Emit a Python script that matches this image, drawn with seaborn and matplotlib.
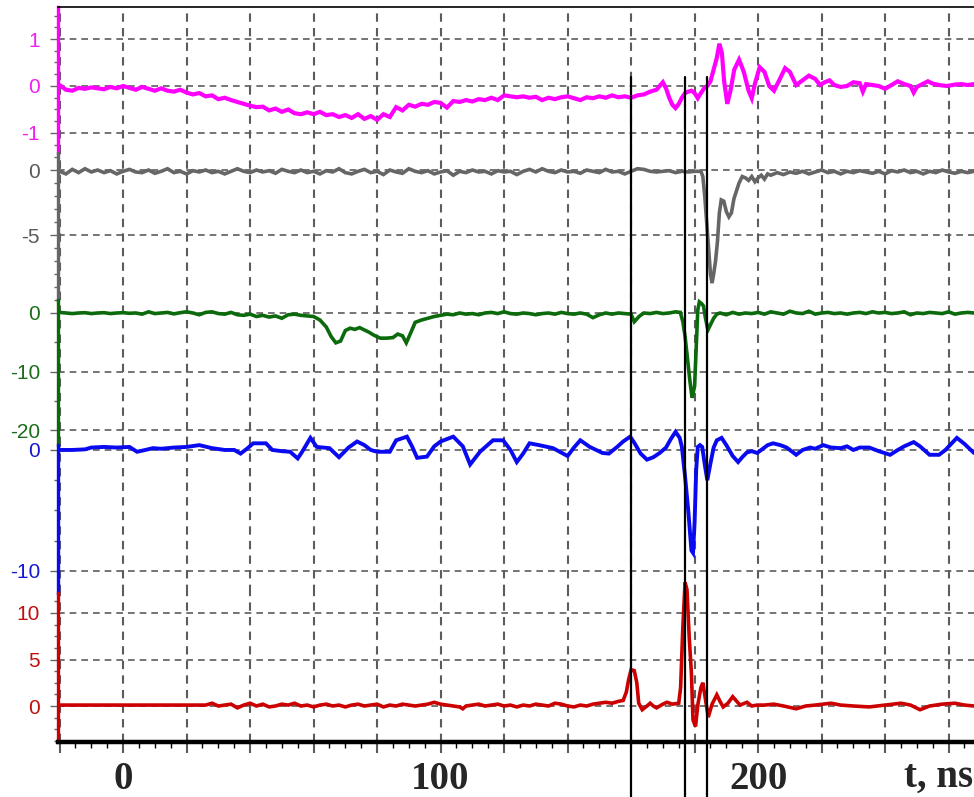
#!/usr/bin/env python3
import matplotlib
matplotlib.use("Agg")
import matplotlib.pyplot as plt
import matplotlib.transforms as mtransforms
from matplotlib.lines import Line2D
from matplotlib.ticker import MultipleLocator, FixedLocator
import seaborn as sns

sns.set_theme(style="white")
plt.rcParams['font.family'] = ['Liberation Sans', 'DejaVu Sans']

# ---- data (t in ns) ----
mg_t = [-20, -18, -16, -14, -12, -10, -8, -6, -4, -2, 0, 2, 4, 6, 8, 10, 12, 14, 16, 18,
        20, 22, 24, 26, 28, 30, 32, 34, 36, 38, 40, 42, 44, 46, 48, 50, 52, 54, 56, 58,
        60, 62, 64, 66, 68, 70, 72, 74, 76, 78, 80, 82, 84, 86, 88, 90, 92, 94, 96, 98,
        100, 102, 104, 106, 108, 110, 112, 114, 116, 118, 120, 122, 124, 126, 128, 130,
        132, 134, 136, 138, 140, 142, 144, 146, 148, 150, 152, 154, 156, 158, 160, 162,
        164, 166, 168, 169, 170, 171, 172, 173, 174, 175, 176, 177, 178, 179, 180, 181,
        182, 183, 184, 185, 186, 187, 187.8, 188.6, 189.3, 190.3, 191.3, 192.5, 194,
        195.5, 197, 198, 199, 200.5, 202, 203.5, 205, 206.5, 208.5, 210, 212, 214, 216,
        218, 219.5, 221, 222.5, 224, 226, 228, 230, 232, 233, 234, 236, 238, 240, 242,
        244, 246, 248, 249, 250, 252, 253.5, 255, 257, 259.5, 262, 264, 266, 268]
mg_v = [0.02, -0.08, -0.1, -0.04, -0.06, -0.03, -0.05, -0.07, -0.02, -0.05, 0.0, -0.04,
        -0.08, -0.02, -0.06, -0.1, -0.05, -0.1, -0.12, -0.08, -0.14, -0.18, -0.15, -0.22,
        -0.2, -0.28, -0.25, -0.3, -0.34, -0.38, -0.42, -0.45, -0.44, -0.52, -0.48, -0.55,
        -0.5, -0.58, -0.6, -0.56, -0.6, -0.55, -0.62, -0.6, -0.66, -0.62, -0.68, -0.6,
        -0.7, -0.64, -0.72, -0.6, -0.66, -0.45, -0.52, -0.4, -0.44, -0.38, -0.4, -0.34,
        -0.36, -0.46, -0.32, -0.34, -0.3, -0.33, -0.28, -0.3, -0.25, -0.3, -0.2, -0.22,
        -0.24, -0.22, -0.25, -0.23, -0.3, -0.25, -0.28, -0.24, -0.22, -0.26, -0.3, -0.24,
        -0.26, -0.22, -0.25, -0.2, -0.24, -0.22, -0.25, -0.2, -0.18, -0.12, -0.08, 0.0,
        0.08, -0.05, -0.25, -0.4, -0.47, -0.38, -0.25, -0.15, -0.12, -0.1, -0.15, -0.26,
        -0.15, -0.05, 0.0, 0.1, 0.35, 0.6, 0.9, 0.7, 0.1, -0.38, -0.1, 0.35, 0.56, 0.3,
        -0.1, -0.26, 0.05, 0.4, 0.3, 0.0, -0.1, 0.1, 0.38, 0.3, 0.02, 0.12, 0.22, 0.15,
        0.02, 0.08, 0.12, 0.02, -0.02, 0.0, 0.08, 0.06, -0.12, 0.04, 0.02, 0.0, -0.06,
        0.02, 0.1, 0.04, 0.0, -0.14, -0.02, 0.05, 0.1, 0.05, 0.02, 0.0, 0.03, 0.04, 0.02,
        0.04]

gr_t = [-20, -18, -16, -14, -12, -10, -8, -6, -4, -2, 0, 2, 4, 6, 8, 10, 12, 14, 16, 18,
        20, 22, 24, 26, 28, 30, 32, 34, 36, 38, 40, 42, 44, 46, 48, 50, 52, 54, 56, 58,
        60, 62, 64, 66, 68, 70, 72, 74, 76, 78, 80, 82, 84, 86, 88, 90, 92, 94, 96, 98,
        100, 102, 104, 106, 108, 110, 112, 114, 116, 118, 120, 122, 124, 126, 128, 130,
        132, 134, 136, 138, 140, 142, 144, 146, 148, 150, 152, 154, 156, 158, 160, 162,
        164, 166, 168, 170, 172, 174, 176, 178, 180, 182, 182.6, 183.2, 183.8, 184.4,
        185, 185.5, 186, 186.6, 187.2, 187.8, 188.4, 189.2, 190, 190.8, 191.6, 192.4,
        193.2, 194, 195, 196, 197, 198, 199, 200, 201, 202, 203, 204, 206, 208, 210, 212,
        214, 216, 218, 220, 222, 224, 226, 228, 230, 232, 234, 236, 238, 240, 242, 244,
        246, 248, 250, 252, 254, 256, 258, 260, 262, 264, 266, 268]
gr_v = [-0.1, -0.3, 0.05, -0.2, 0.1, -0.15, 0.0, -0.2, -0.05, -0.3, -0.1, 0.05, -0.15,
        -0.2, 0.0, -0.25, -0.1, 0.1, -0.2, -0.1, -0.3, -0.05, -0.15, 0.0, -0.2, -0.1,
        -0.3, -0.1, 0.1, -0.1, -0.2, 0.0, -0.15, -0.05, -0.25, 0.05, -0.1, -0.2, 0.0,
        -0.2, -0.1, -0.3, -0.05, -0.15, 0.1, -0.2, -0.3, -0.1, 0.05, -0.2, -0.1, -0.35,
        0.0, -0.15, -0.25, 0.1, -0.1, -0.2, -0.05, -0.3, -0.15, -0.05, -0.4, -0.1, -0.2,
        0.0, -0.15, -0.1, -0.3, -0.05, -0.15, -0.1, -0.35, -0.1, 0.05, -0.15, 0.1, -0.1,
        -0.2, 0.0, -0.15, -0.1, -0.25, 0.0, -0.1, -0.2, 0.05, -0.15, -0.1, -0.3, -0.1,
        0.1, 0.05, -0.1, -0.15, -0.1, -0.05, -0.2, -0.1, -0.15, -0.1, -0.1, -0.5, -2.0,
        -4.0, -6.0, -8.0, -8.7, -8.0, -7.0, -5.5, -3.3, -2.3, -2.4, -3.2, -3.6, -3.3,
        -2.2, -1.6, -1.0, -0.5, -0.6, -0.8, -0.5, -0.9, -0.6, -0.4, -0.7, -0.3, -0.4,
        -0.2, -0.35, -0.15, -0.25, -0.1, -0.3, -0.15, 0.0, -0.2, -0.1, -0.3, -0.1, -0.2,
        -0.05, -0.15, -0.25, -0.1, -0.3, -0.05, -0.15, 0.0, -0.2, -0.1, -0.3, -0.1, -0.2,
        0.0, -0.15, -0.25, -0.1, -0.2, -0.1]

gn_t = [-20, -18, -16, -14, -12, -10, -8, -6, -4, -2, 0, 2, 4, 6, 8, 10, 12, 14, 16, 18,
        20, 22, 24, 26, 28, 30, 32, 34, 36, 38, 40, 42, 44, 46, 48, 50, 52, 54, 56, 58,
        60, 62, 64, 65.5, 67, 68.5, 70, 71.5, 73, 74.5, 76, 77.5, 79, 81, 83, 85, 86.5,
        88, 89.2, 90.5, 92, 94, 96, 98, 100, 102, 104, 106, 108, 110, 112, 114, 116, 118,
        120, 122, 124, 126, 128, 130, 132, 134, 136, 138, 140, 142, 144, 146, 148, 150,
        152, 154, 156, 158, 160, 161, 162.5, 164, 166, 168, 170, 172, 174, 175.5, 176.3,
        177, 177.8, 178.5, 179.2, 180, 180.5, 181, 181.5, 182.2, 182.8, 183.4, 184.2, 185,
        186, 187, 188, 190, 192, 194, 196, 198, 200, 202, 204, 206, 208, 210, 212, 214,
        216, 218, 220, 222, 224, 226, 228, 230, 232, 234, 236, 238, 240, 242, 244, 246,
        248, 250, 252, 254, 256, 258, 260, 262, 264, 266, 268]
gn_v = [0.1, 0.0, -0.1, 0.0, 0.05, -0.1, 0.0, 0.05, -0.1, 0.0, 0.05, -0.05, 0.0, -0.2,
        0.2, -0.1, 0.0, 0.1, -0.15, 0.05, 0.2, 0.0, -0.3, 0.1, 0.2, -0.1, -0.2, 0.1, -0.3,
        -0.4, -0.2, -0.6, -0.4, -0.7, -0.5, -0.9, -0.3, -0.2, -0.4, -0.5, -0.6, -1.2,
        -2.4, -4.0, -5.1, -4.8, -3.0, -2.6, -2.8, -2.5, -2.9, -3.3, -3.8, -4.3, -4.3,
        -4.2, -3.6, -3.9, -5.1, -3.5, -1.6, -1.2, -0.9, -0.6, -0.4, -0.2, -0.3, 0.0, -0.2,
        -0.1, -0.3, 0.0, 0.1, -0.1, 0.2, -0.1, -0.2, 0.0, -0.1, -0.3, -0.1, 0.0, -0.2,
        0.1, -0.1, -0.2, 0.0, -0.2, -0.8, -0.3, 0.0, -0.2, 0.0, -0.1, -0.2, -1.5, -0.6,
        0.0, -0.1, 0.1, -0.1, 0.0, 0.2, 0.1, -1.5, -4.0, -8.0, -11.5, -14.5, -12.5, -6.0,
        0.5, 1.9, 1.6, 1.2, -0.8, -2.9, -2.0, -0.9, -0.2, 0.0, -0.3, 0.1, -0.2, 0.0, -0.1,
        0.1, -0.2, 0.2, 0.0, -0.2, 0.3, 0.0, -0.1, 0.3, -0.2, 0.0, 0.1, -0.1, 0.0, -0.2,
        0.0, 0.1, -0.1, 0.2, 0.0, 0.1, -0.1, 0.0, 0.2, -0.3, 0.0, -0.1, 0.1, 0.0, -0.1,
        0.2, -0.2, 0.0, 0.1, 0.0]

bl_t = [-20, -16, -12, -10, -6, -2, 2, 4.4, 7, 9.4, 12, 16, 20, 24, 28, 32, 35, 37, 39,
        41, 45, 47, 50, 52.6, 55, 56.4, 59, 61, 65, 68, 71, 73.7, 76, 78, 80, 84, 86,
        89.4, 91, 92.6, 95.7, 98, 100, 104, 107, 109.3, 112.4, 116.5, 119.7, 122, 124,
        126, 128, 131, 135.4, 140, 142, 144, 147, 149, 151, 153, 155.6, 157.5, 159.7, 161,
        163, 165, 167, 169, 171, 172.5, 174, 175.3, 176, 177, 178, 179, 179.5, 180, 180.5,
        181, 181.7, 182.4, 183.2, 184, 185, 186, 187, 188.5, 190, 192, 193.7, 195, 196.5,
        198, 199.7, 201.5, 203, 204.7, 207, 209, 212, 214, 216.4, 218, 220.5, 223, 226,
        228, 230, 232, 235, 238, 241.6, 244, 246, 249, 251, 254, 257, 259, 262.6, 265, 268]
bl_v = [0.0, 0.0, 0.05, 0.2, 0.25, 0.2, 0.25, -0.15, 0.0, 0.15, 0.1, 0.2, 0.25, 0.4, 0.15,
        0.0, 0.0, -0.3, 0.1, 0.55, 0.55, 0.0, -0.1, -0.15, -0.7, -0.15, 1.0, 0.25, 0.15,
        -0.6, 0.2, 0.7, 0.4, 0.0, -0.15, -0.15, 0.8, 1.1, 0.3, -0.65, -0.55, 0.3, 0.7,
        1.1, 0.3, -1.2, -0.15, 0.8, 0.8, 0.0, -1.0, -0.3, 0.55, 0.4, 0.15, -0.5, 0.2, 0.8,
        0.25, 0.0, -0.25, -0.3, 0.25, 0.7, 1.1, 0.6, -0.3, -0.8, -0.6, -0.25, 0.2, 0.9,
        1.5, 1.0, 0.25, -2.2, -5.0, -8.3, -8.5, -6.0, -1.65, 0.25, 0.4, 0.25, -1.2, -2.5,
        -1.1, 0.2, 0.8, 1.0, 0.4, -0.5, -1.0, -0.6, -0.2, -0.1, -0.25, 0.1, 0.4, 0.55,
        0.4, 0.2, -0.4, 0.0, 0.2, 0.1, 0.4, 0.2, 0.15, 0.3, 0.0, 0.2, 0.2, -0.1, -0.4,
        0.0, 0.3, 0.65, 0.3, -0.4, -0.4, 0.0, 1.0, 0.5, -0.25]

rd_t = [-20, -10, 0, 10, 20, 26, 28, 30, 32, 34, 36, 38, 40, 42, 44, 46, 48, 50, 52, 54,
        56, 58, 60, 62, 64, 66, 68, 70, 72, 74, 76, 78, 80, 82, 84, 86, 88, 90, 92, 94,
        96, 98, 100, 102, 104, 106, 107, 108, 110, 112, 114, 116, 118, 120, 122, 124, 126,
        128, 130, 132, 134, 136, 138, 140, 142, 144, 146, 148, 150, 152, 154, 156, 157.5,
        158.5, 159.2, 160, 161, 161.8, 162.4, 163.5, 165, 166, 167, 168, 170, 171.3, 173,
        175, 175.6, 176.3, 177, 177.6, 178.3, 179, 179.5, 180.3, 181, 182, 182.6, 183.3,
        184.3, 185.5, 187, 188, 189, 190.5, 192, 193.3, 194.3, 196.5, 198, 199.7, 202,
        205, 208, 212, 215, 218, 223, 226, 230, 235, 240, 245, 248, 251, 254, 258, 262,
        265, 268]
rd_v = [0.1, 0.1, 0.1, 0.1, 0.1, 0.1, 0.3, 0.0, 0.1, 0.2, -0.2, 0.1, 0.3, 0.0, 0.2, -0.1,
        0.0, 0.2, 0.1, 0.3, 0.0, 0.1, -0.1, 0.1, 0.2, 0.0, 0.1, -0.1, 0.1, 0.2, 0.0, 0.1,
        0.2, -0.1, 0.1, 0.0, 0.2, 0.1, 0.0, 0.1, 0.2, 0.4, 0.2, 0.1, 0.0, -0.1, -0.3, 0.0,
        0.1, 0.2, 0.0, 0.1, 0.2, 0.0, 0.1, -0.1, 0.1, 0.0, 0.2, 0.1, 0.0, 0.3, 0.2, 0.0,
        -0.1, 0.1, 0.0, 0.2, 0.3, 0.4, 0.3, 0.5, 0.6, 1.5, 2.8, 3.9, 3.8, 2.5, 0.3, -0.4,
        0.0, 0.3, 0.0, -0.2, 0.2, 0.4, 0.2, 0.3, 2.0, 8.5, 13.3, 12.5, 7.4, 3.5, -1.5,
        -2.2, 0.1, 2.0, 2.5, 1.0, -1.2, 0.2, 1.2, 0.5, -0.1, 0.3, 1.0, 0.5, 0.1, 0.4, 0.0,
        0.1, 0.1, 0.2, 0.0, -0.3, 0.0, 0.1, 0.3, 0.1, 0.0, -0.1, 0.1, 0.3, 0.1, -0.4, 0.0,
        0.2, 0.3, 0.1, 0.0]

y_ticks = {
    'magenta': [-1, 0, 1],
    'gray': [-5, 0],
    'green': [-20, -10, 0],
    'blue': [-10, 0],
    'red': [0, 5, 10],
}
x_labels = {0: '0', 100: '100', 200: '200'}
marker_t = [160, 177, 184]

# ---- layout (pixel bounds of each trace band) ----
W, H = 974, 797
LEFT = 58
panels = [
    # name, t, v, line colour, label colour, width, top px, bottom px, ylim, minor step
    ('magenta', mg_t, mg_v, '#ff00ff', '#f020f0', 3.0, 7, 153, (-1.426, 1.681), 0.25),
    ('gray', gr_t, gr_v, '#666666', '#5a5a5a', 2.6, 153, 300, (-10.0, 1.31), 1.0),
    ('green', gn_t, gn_v, '#0b6a0b', '#1a6e1a', 2.6, 300, 445, (-22.56, 2.22), 5.0),
    ('blue', bl_t, bl_v, '#0a0af0', '#1818d0', 2.8, 445, 593, (-11.82, 0.41), 2.5),
    ('red', rd_t, rd_v, '#cc0000', '#c01010', 2.6, 593, 742, (-3.87, 12.15), 1.25),
]

fig = plt.figure(figsize=(W / 100, H / 100), dpi=100)
grid_kw = dict(color='#5c5c5c', linestyle=(0, (4, 3)))
axes = []
for i, (name, t, v, col, lcol, lw, top, bot, ylim, minor) in enumerate(panels):
    ax = fig.add_axes([LEFT / W, 1 - bot / H, 1 - LEFT / W, (bot - top) / H])
    ax.patch.set_alpha(0)
    sns.lineplot(x=t, y=v, ax=ax, color=col, linewidth=lw, estimator=None,
                 sort=False, legend=False)
    ax.lines[-1].set_clip_on(False)
    ax.lines[-1].set_solid_joinstyle('miter')
    ax.set_xlim(-20.5, 268)
    ax.set_ylim(*ylim)
    ax.set_xlabel('')
    ax.set_ylabel('')

    ax.xaxis.set_major_locator(MultipleLocator(20))
    ax.xaxis.set_minor_locator(MultipleLocator(5))
    ax.yaxis.set_major_locator(FixedLocator(y_ticks[name]))
    ax.yaxis.set_minor_locator(MultipleLocator(minor))
    ax.grid(True, axis='x', linewidth=1.5, **grid_kw)
    ax.grid(True, axis='y', linewidth=1.2, **grid_kw)
    ax.set_axisbelow(True)

    for s in ['top', 'right', 'bottom']:
        ax.spines[s].set_visible(False)
    ax.spines['left'].set_color(col)
    ax.spines['left'].set_linewidth(2.4)

    ax.tick_params(axis='y', which='major', left=True, length=6, width=1,
                   color='#666666', labelsize=15, labelcolor=lcol, pad=7)
    ax.tick_params(axis='y', which='minor', left=True, length=3, width=1,
                   color='#666666')
    ax.set_yticklabels([str(k) for k in y_ticks[name]])

    if i == 0:
        ax.spines['top'].set_visible(True)
        ax.spines['top'].set_color('black')
        ax.spines['top'].set_linewidth(1.2)
    if i < len(panels) - 1:
        ax.tick_params(axis='x', which='both', bottom=False, labelbottom=False)
    else:
        ax.spines['bottom'].set_visible(True)
        ax.spines['bottom'].set_color('black')
        ax.spines['bottom'].set_linewidth(3.2)
        ticks = ax.get_xticks()
        ax.set_xticks(ticks)
        ax.set_xticklabels([x_labels.get(int(round(k)), '') for k in ticks])
        ax.tick_params(axis='x', which='major', bottom=True, length=8, width=1.5,
                       color='#5c5c5c', pad=6)
        ax.tick_params(axis='x', which='minor', bottom=True, length=4, width=1,
                       color='black')
        for lab in ax.get_xticklabels():
            lab.set_fontfamily('Liberation Serif')
            lab.set_fontweight('bold')
            lab.set_fontsize(28)
        ax.set_xlim(-20.5, 268)
    axes.append(ax)

# black time markers crossing all traces and the axis
trans = mtransforms.blended_transform_factory(axes[-1].transData, fig.transFigure)
for tm in marker_t:
    fig.add_artist(Line2D([tm, tm], [0, 1 - 77 / H], transform=trans,
                          color='black', linewidth=1.6, zorder=10))

fig.text(0.999, 1 - 777 / H, 't, ns', ha='right', va='center',
         fontfamily='Liberation Serif', fontweight='bold', fontsize=28)

fig.savefig('out.png', dpi=100)
